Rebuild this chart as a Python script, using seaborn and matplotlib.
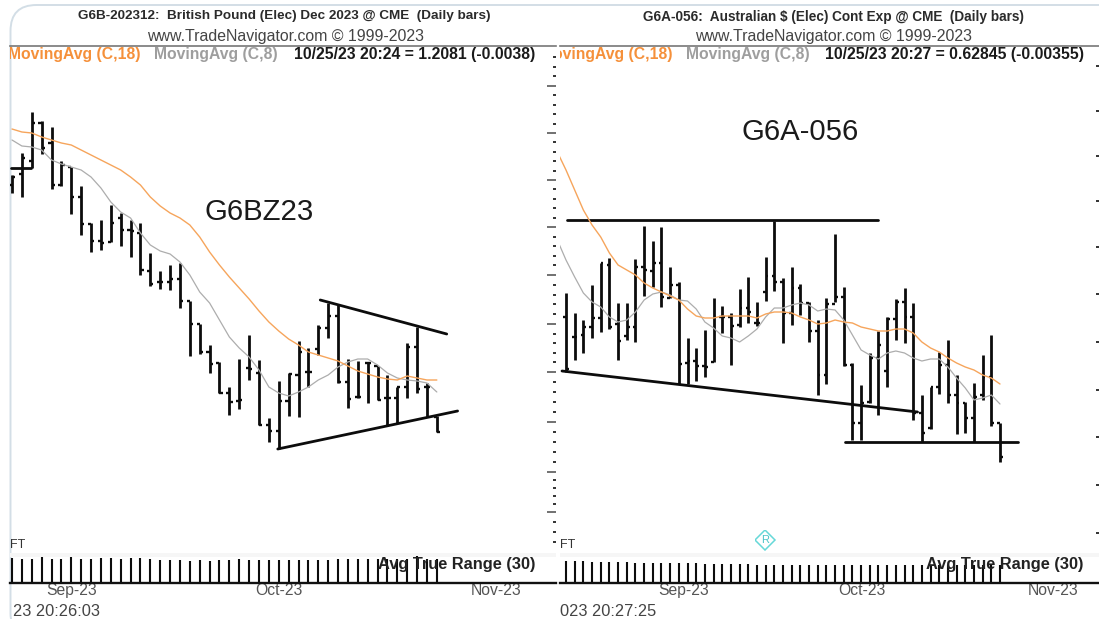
import numpy as np
import pandas as pd
import matplotlib
matplotlib.use("Agg")
import matplotlib.pyplot as plt
from matplotlib.patches import FancyBboxPatch
from matplotlib.transforms import IdentityTransform
import seaborn as sns

# British Pound panel, levels on the chart's hidden price scale
gbp_high = [444,466,507,498,492,458,452,433,396,399,414,406,399,396,366,348,354,356,318,295,274,257,232,260,284,259,201,238,246,278,271,294,316,314,260,258,257,253,244,232,276,292,236,203]
gbp_low = [426,422,451,465,430,433,405,384,367,369,377,373,362,344,333,330,329,311,263,265,246,226,204,210,239,194,177,170,203,202,232,264,281,236,211,221,216,219,194,196,221,226,202,187]
gbp_open = [434,445,458,496,476,434,452,422,395,378,377,401,389,386,348,337,337,340,318,295,267,256,226,218,251,246,194,188,218,244,247,270,291,303,237,222,256,253,221,221,232,272,232,202]
gbp_close = [442,461,496,471,434,454,422,395,378,376,396,389,388,349,335,337,340,318,295,267,255,226,217,219,250,194,188,218,245,267,247,291,303,237,220,222,256,219,221,232,272,230,232,187]
gbp_ma18 = [490,487,486,482,479,476,474,469,464,459,454,449,442,434,422,413,406,401,394,382,367,354,342,331,320,308,297,288,280,274,267,264,261,258,253,248,245,242,240,239,243,241,239,239]
gbp_ma8 = [479,473,472,469,459,455,452,449,442,431,417,407,401,386,374,368,365,357,344,327,316,299,282,271,262,249,232,226,223,227,232,239,244,252,257,260,260,254,246,241,239,238,236,227]
gbp_atr = [25,24.5,24.5,26,24.5,24.5,26,24,24.5,25,25,24.5,25,25,24.5,23.5,23,23,22.5,23,21.6,22.7,22.7,24,22.7,22.7,23,23,23,23,23,23,23.5,24,24,24,24.5,24,24.5,24.5,24,27,24.5,24]

# Australian Dollar panel; moving averages begin one session before the first bar
aud_high = [326,306,299,334,356,361,316,316,360,393,378,392,352,337,281,271,289,321,313,306,330,342,317,362,398,341,352,335,317,299,321,385,332,256,234,266,288,302,320,331,316,224,232,267,279,244,217,236,264,284,196]
aud_low = [247,259,266,281,287,290,259,279,277,323,332,312,321,235,235,238,242,257,286,254,292,296,293,318,328,276,294,304,277,224,235,317,253,179,179,216,204,232,279,276,199,177,190,225,216,185,186,177,219,193,157]
aud_open = [302,282,284,292,301,354,295,283,292,352,348,356,321,334,256,258,253,257,302,302,294,311,296,327,343,337,306,331,316,288,244,315,322,254,196,217,261,248,300,317,302,206,191,232,254,224,216,201,224,242,196]
aud_close = [250,282,292,301,356,292,278,292,352,349,356,322,334,255,258,253,252,302,302,293,311,307,296,343,337,306,331,316,288,244,315,322,254,196,216,261,274,300,317,302,206,186,232,254,224,216,201,222,242,196,162]
aud_ma18 = [467,449,429,409,394,382,366,354,349,344,336,331,327,323,319,310,303,301,301,303,303,303,303,301,305,307,307,306,302,299,295,296,299,297,296,292,290,288,288,290,290,286,277,271,267,261,256,252,249,244,241,235]
aud_ma8 = [379,359,342,326,317,312,302,297,299,307,319,325,327,324,319,318,310,297,291,283,281,277,283,290,302,311,311,314,316,314,308,310,309,299,284,269,264,260,266,268,266,261,258,260,260,252,241,231,219,221,224,215]
aud_atr = [22,22,22,21,21,21,21,21,20.5,20.5,20.5,20,20,20,20,20,19.5,19.5,19,19,19,19,18.5,18.5,18.5,18.5,18.5,18.5,18,18,18,18,18,18,18,18,18,18,18,18,18,18,18,18,18,18,18,18,18,18,18]

# Hand-drawn trend lines: (session, level) end points
gbp_lines = [([31.2, 44.0], [319, 285]), ([26.9, 45.1], [170, 208]), ([-0.1, 1.95], [451, 451])]
aud_lines = [([0.12, 36.0], [399, 399]), ([-0.46, 40.5], [248, 207]), ([32.1, 52.1], [177, 177])]

gbp_major = [533, 486, 439, 392, 344, 295, 247, 197, 147, 107]
aud_ticks = [553, 508, 463, 418, 372, 325, 277, 229, 182, 134, 86]
gbp_dates = [6.0, 27.0, 49.0]
aud_dates = [13.5, 34.1, 56.1]
date_labels = ["Sep-23", "Oct-23", "Nov-23"]

W, H = 1099, 619
sns.set_theme(style="white")
plt.rcParams["font.family"] = ["Liberation Sans", "DejaVu Sans"]
fig = plt.figure(figsize=(W / 100, H / 100), dpi=100, facecolor="white")
fig.patches.append(FancyBboxPatch((10.5, -20), 1120, 634, boxstyle="round,pad=0,rounding_size=26",
                                  transform=IdentityTransform(), fc="white", ec="#d3dee6", lw=1.4,
                                  figure=fig, zorder=-5))

ORANGE, GRAY = "#f6a55c", "#adadad"


def axes_px(x0, x1, y0, y1):
    return fig.add_axes([x0 / W, 1 - y1 / H, (x1 - x0) / W, (y1 - y0) / H], facecolor="none")


def panel(x0, x1, first_px, step, o, h, l, c, ma18, ma8, ma_x, lines, atr, dates):
    ax = axes_px(x0, x1, 46, 557)
    xlim = ((x0 - first_px) / step, (x1 - first_px) / step)
    ax.set_xlim(*xlim)
    ax.set_ylim(62, 573)
    idx = np.arange(len(h))
    df = pd.DataFrame({"x": ma_x, "m18": ma18, "m8": ma8})
    sns.lineplot(data=df, x="x", y="m8", color=GRAY, lw=0.9, ax=ax, zorder=3)
    sns.lineplot(data=df, x="x", y="m18", color=ORANGE, lw=1.0, ax=ax, zorder=3)
    ax.vlines(idx, l, h, color="#0c0c0c", lw=2.0, zorder=2)
    ax.hlines(o, idx - 0.32, idx, color="#0c0c0c", lw=1.7, zorder=2)
    ax.hlines(c, idx, idx + 0.32, color="#0c0c0c", lw=1.7, zorder=2)
    for xs, ys in lines:
        ax.plot(xs, ys, color="#0c0c0c", lw=2.0, solid_capstyle="round", zorder=2)
    ax.set_xlabel("")
    ax.set_ylabel("")
    ax.set_xticks([])
    for s in ("left", "right", "bottom"):
        ax.spines[s].set_visible(False)
    ax.spines["top"].set_color("#777777")
    ax.spines["top"].set_linewidth(1.2)
    ax.yaxis.tick_right()

    atr_ax = axes_px(x0, x1, 553, 583)
    atr_ax.set_xlim(*xlim)
    atr_ax.set_ylim(0, 30)
    atr_ax.axhspan(26, 30, color="#f6f6f6", lw=0, zorder=0)
    atr_ax.vlines(idx, 0, atr, color="#0c0c0c", lw=1.5, zorder=2)
    atr_ax.set_yticks([])
    atr_ax.set_xticks(dates, date_labels, color="#555555", fontsize=11.3)
    atr_ax.tick_params(axis="x", length=0, pad=0)
    for s in ("left", "right", "top"):
        atr_ax.spines[s].set_visible(False)
    atr_ax.spines["bottom"].set_color("#111111")
    atr_ax.spines["bottom"].set_linewidth(1.7)
    return ax, atr_ax


axL, atrL = panel(10, 556, 12, 9.88, gbp_open, gbp_high, gbp_low, gbp_close,
                  gbp_ma18, gbp_ma8, np.arange(44), gbp_lines, gbp_atr, gbp_dates)
axR, atrR = panel(560, 1099, 566, 8.68, aud_open, aud_high, aud_low, aud_close,
                  aud_ma18, aud_ma8, np.arange(-1, 51), aud_lines, aud_atr, aud_dates)

# Left panel scale: long marks every fifth level, short ones between
minor = []
for a, b in zip(gbp_major[:-1], gbp_major[1:]):
    minor += list(np.linspace(a, b, 6)[1:-1])
minor += [562, 552, 543, 97, 87, 77]
axL.set_yticks(gbp_major, [""] * len(gbp_major))
axL.set_yticks(minor, minor=True)
axL.tick_params(axis="y", which="major", direction="in", length=6.5, width=1.3, color="#666666", right=True)
axL.tick_params(axis="y", which="minor", direction="in", length=2.2, width=1.4, color="#333333", right=True)
axR.set_yticks(aud_ticks, [""] * len(aud_ticks))
axR.tick_params(axis="y", which="major", direction="in", length=2.2, width=1.4, color="#333333", right=True)


def T(ax, x, y, s, **kw):
    kw.setdefault("va", "center")
    return ax.text(x / W, 1 - y / H, s, transform=fig.transFigure, **kw)


# Headers
fig.text(284.5 / W, 1 - 16.5 / H, "G6B-202312:  British Pound (Elec) Dec 2023 @ CME  (Daily bars)",
         ha="center", va="center", fontsize=9.7, fontweight="bold", color="#2b2b2b")
fig.text(833 / W, 1 - 16.5 / H, "G6A-056:  Australian $ (Elec) Cont Exp @ CME  (Daily bars)",
         ha="center", va="center", fontsize=9.8, fontweight="bold", color="#2b2b2b")
fig.text(286 / W, 1 - 36.5 / H, "www.TradeNavigator.com © 1999-2023", ha="center", va="center",
         fontsize=11.4, color="#444444")
fig.text(834 / W, 1 - 36.5 / H, "www.TradeNavigator.com © 1999-2023", ha="center", va="center",
         fontsize=11.4, color="#444444")

for ax, xo, xg, xb, val in ((axL, 141, 154, 535, "10/25/23 20:24 = 1.2081 (-0.0038)"),
                            (axR, 673, 686, 1084, "10/25/23 20:27 = 0.62845 (-0.00355)")):
    T(ax, xo, 54, "MovingAvg (C,18)", ha="right", fontsize=11.3, fontweight="bold", color="#f5903a", clip_on=True)
    T(ax, xg, 54, "MovingAvg (C,8)", ha="left", fontsize=11.3, fontweight="bold", color="#9e9e9e", clip_on=True)
    T(ax, xb, 54, val, ha="right", fontsize=11.3, fontweight="bold", color="#1a1a1a", clip_on=True)

# Symbol labels on the charts
fig.text(259.5 / W, 1 - 212 / H, "G6BZ23", ha="center", va="center", fontsize=21.2, color="#1a1a1a")
fig.text(800.5 / W, 1 - 132 / H, "G6A-056", ha="center", va="center", fontsize=21.2, color="#1a1a1a")

# Footer details
for x_ft, x_atr, stamp, x_stamp in ((10, 535, "23 20:26:03", 13), (560, 1084, "023 20:27:25", 560)):
    fig.text(x_ft / W, 1 - 544.5 / H, "FT", ha="left", va="center", fontsize=9, color="#333333")
    fig.text(x_atr / W, 1 - 564.5 / H, "Avg True Range (30)", ha="right", va="center", fontsize=11.8,
             fontweight="bold", color="#222222", zorder=10)
    fig.text(x_stamp / W, 1 - 611.5 / H, stamp, ha="left", va="center", fontsize=11.8, color="#444444")

marker_ax = axes_px(755, 775, 530, 550)
marker_ax.set_xlim(-1, 1)
marker_ax.set_ylim(-1, 1)
marker_ax.axis("off")
marker_ax.plot([0], [0], marker="D", ms=10, mfc="white", mec="#66d8d8", mew=1.1)
marker_ax.text(0, 0, "R", ha="center", va="center", fontsize=8, color="#4cc4c8")

fig.savefig("out.png", dpi=100)
